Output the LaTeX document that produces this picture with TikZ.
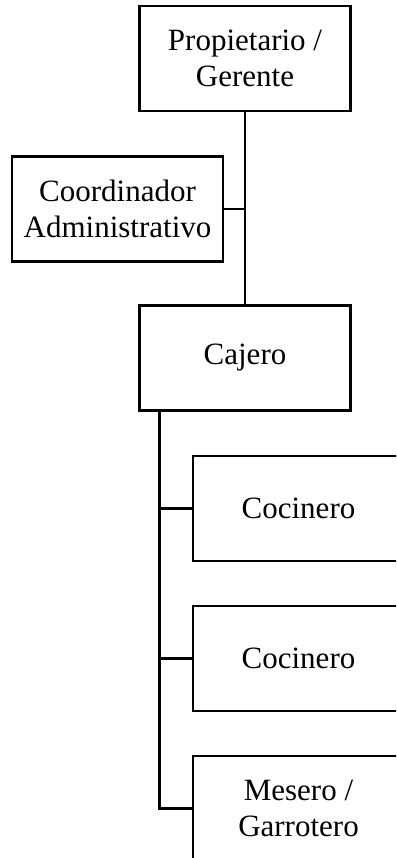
\documentclass[tikz,border=0pt]{standalone}
\usepackage{fontspec}
\setmainfont{Liberation Serif}
\begin{document}
\begin{tikzpicture}[x=1pt,y=1pt,
  box/.style={draw=black, line width=2.8pt, minimum width=211pt, minimum height=105pt,
    inner sep=0pt, align=center, font=\fontsize{31}{36}\selectfont},
  link/.style={draw=black, line width=2.8pt}]
\useasboundingbox (0,0) rectangle (396,-858);
\clip (0,0) rectangle (396,-858);
\node[box] (own) at (245,-58.5) {Propietario /\\Gerente};
\node[box] (coord) at (117.5,-209) {Coordinador\\Administrativo};
\node[box] (caj) at (245,-358) {Cajero};
\node[box] (coc1) at (298.5,-508.5) {Cocinero};
\node[box] (coc2) at (298.5,-658.5) {Cocinero};
\node[box] (mes) at (298.5,-808.5) {Mesero /\\Garrotero};
\draw[link] (own.south) -- (caj.north);
\draw[link] (coord.east) -- (coord.east -| own.south);
\coordinate (lt) at ([xshift=21pt]caj.south west);
\draw[link] (lt) -- (lt |- mes.west) -- (mes.west);
\draw[link] (lt |- coc1.west) -- (coc1.west);
\draw[link] (lt |- coc2.west) -- (coc2.west);
\end{tikzpicture}
\end{document}
